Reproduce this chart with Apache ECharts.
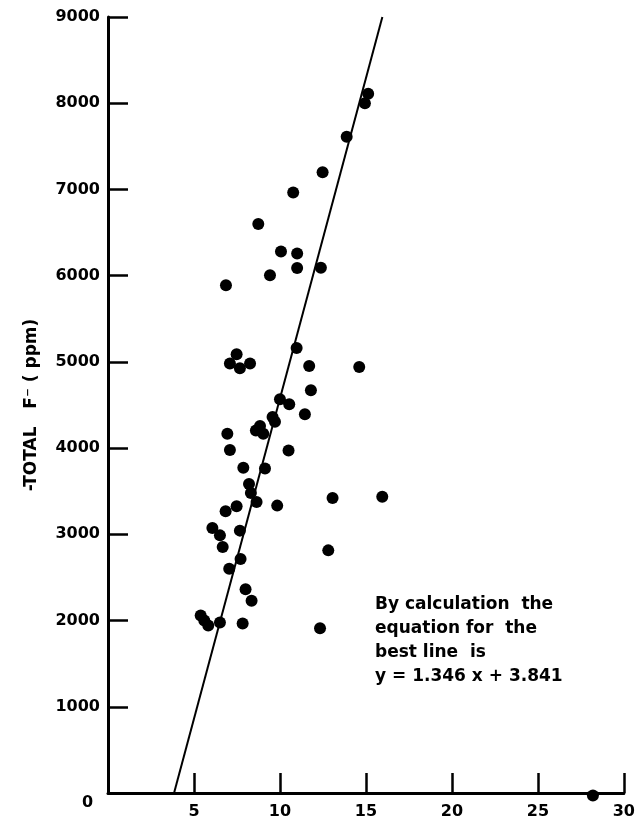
<!DOCTYPE html>
<html>
<head>
<meta charset="utf-8">
<script src="https://cdn.jsdelivr.net/npm/echarts@6/dist/echarts.min.js"></script>
<style>
html,body{margin:0;padding:0;background:#fff;}
#chart{width:638px;height:825px;}
</style>
</head>
<body>
<div id="chart"></div>
<script>
// x values (horizontal axis)
const xValues = [15.13, 14.94, 13.88, 12.48, 10.77, 8.74, 10.06, 11.0, 11.0, 12.38, 9.42, 6.86,
  7.48, 7.09, 7.67, 8.26, 10.97, 11.70, 14.61, 11.80, 10.0, 10.54, 11.45, 9.57, 9.71,
  8.84, 8.60, 9.03, 6.94, 7.09, 10.5, 7.87, 9.13, 8.20, 8.31, 8.64, 7.48, 9.84, 13.06,
  15.95, 6.84, 6.07, 6.51, 6.67, 7.67, 12.81, 7.71, 7.05, 8.0, 8.35, 5.39, 5.6, 5.83,
  6.51, 7.83, 12.33, 28.2];
// total F- (ppm)
const yValues = [8110, 8000, 7610, 7200, 6965, 6600, 6280, 6256, 6090, 6093, 6004, 5888,
  5089, 4980, 4927, 4980, 5160, 4953, 4942, 4671, 4566, 4508, 4392, 4360, 4306,
  4256, 4205, 4166, 4166, 3977, 3973, 3771, 3764, 3585, 3480, 3376, 3326, 3333, 3422,
  3435, 3267, 3073, 2988, 2853, 3043, 2814, 2713, 2601, 2364, 2229, 2058, 2000, 1942,
  1977, 1965, 1911, -30];
// best line: x = 1.346*(y/1000) + 3.841
const lineX = [3.841, 15.955];
const lineY = [0, 9000];
const xTicks = [0, 5, 10, 15, 20, 25, 30];
const yTicks = [0, 1000, 2000, 3000, 4000, 5000, 6000, 7000, 8000, 9000];
const noteLines = ['By calculation  the', 'equation for  the', 'best line  is', 'y = 1.346 x + 3.841'];
const yName = '-TOTAL   F\u207B ( ppm)';

const pts = xValues.map((x, i) => [x, yValues[i]]);
const linePts = lineX.map((x, i) => [x, lineY[i]]);

const chart = echarts.init(document.getElementById('chart'));
const axisFont = {fontFamily: 'DejaVu Sans', fontWeight: 'bold', fontSize: 16, color: '#000'};
chart.setOption({
  animation: false,
  backgroundColor: '#fff',
  grid: {left: 108, right: 14, top: 17, bottom: 32},
  xAxis: {
    type: 'value', min: xTicks[0], max: xTicks[xTicks.length - 1], interval: 5,
    axisLine: {lineStyle: {color: '#000', width: 3}},
    axisTick: {inside: true, length: 20, lineStyle: {color: '#000', width: 2.5}},
    splitLine: {show: false},
    axisLabel: Object.assign({margin: 11, formatter: v => v === 0 ? '' : String(v)}, axisFont)
  },
  yAxis: {
    type: 'value', min: yTicks[0], max: yTicks[yTicks.length - 1], interval: 1000,
    name: yName, nameLocation: 'middle', nameRotate: 90, nameGap: 68,
    nameTextStyle: {fontFamily: 'DejaVu Sans', fontWeight: 'bold', fontSize: 17, color: '#000'},
    axisLine: {lineStyle: {color: '#000', width: 3}},
    axisTick: {inside: true, length: 20, lineStyle: {color: '#000', width: 2.5}},
    splitLine: {show: false},
    axisLabel: Object.assign({margin: 8, formatter: v => v === 0 ? '' : String(v)}, axisFont)
  },
  graphic: [
    {type: 'text', left: 82, top: 795, style: {text: '0', fill: '#000', font: 'bold 16px "DejaVu Sans"'}},
    {type: 'text', left: 375, top: 593, style: {text: noteLines.join('\n'), fill: '#000', font: 'bold 17px "DejaVu Sans"', lineHeight: 24}}
  ],
  series: [
    {type: 'line', data: linePts, symbol: 'none', lineStyle: {color: '#000', width: 2}, z: 2},
    {type: 'scatter', data: pts, symbolSize: 12, clip: false, itemStyle: {color: '#000', opacity: 1}, z: 3}
  ]
});
</script>
</body>
</html>
